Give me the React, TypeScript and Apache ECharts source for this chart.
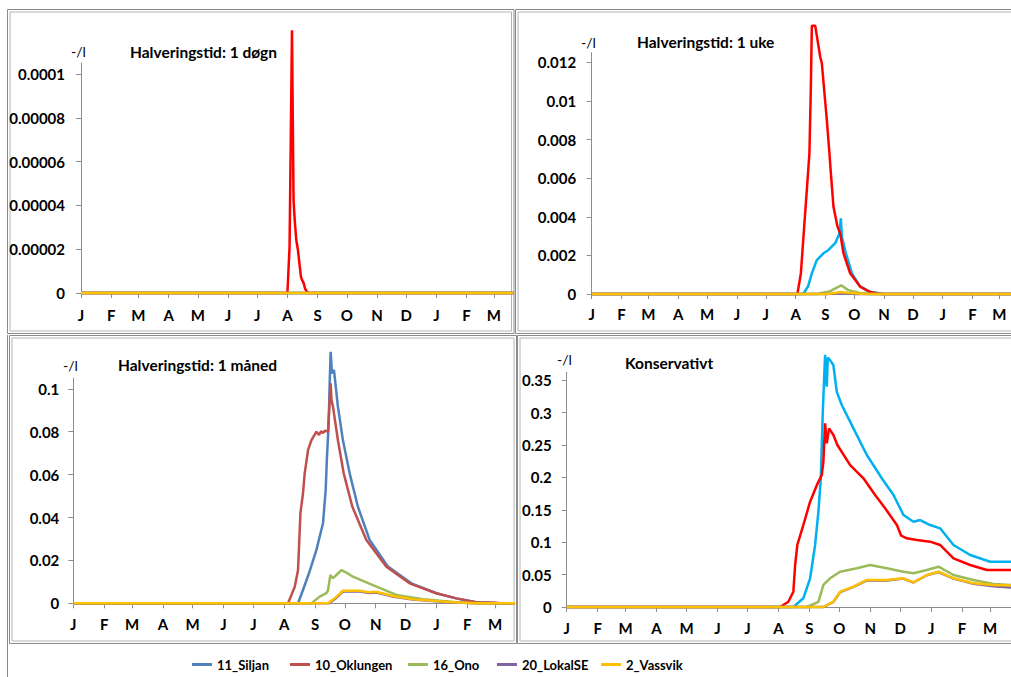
import React, { useEffect, useRef } from "react";
import * as echarts from "echarts";

// ---------- axis data ----------
const MONTH_DAYS = [0, 31, 59, 90, 120, 151, 181, 212, 243, 273, 304, 334, 365, 396, 424];
const MONTH_LABELS = ["J", "F", "M", "A", "M", "J", "J", "A", "S", "O", "N", "D", "J", "F", "M"];

const TICKS_DOGN = [0, 0.00002, 0.00004, 0.00006, 0.00008, 0.0001];
const TICKS_UKE = [0, 0.002, 0.004, 0.006, 0.008, 0.01, 0.012];
const TICKS_MAANED = [0, 0.02, 0.04, 0.06, 0.08, 0.1];
const TICKS_KONS = [0, 0.05, 0.1, 0.15, 0.2, 0.25, 0.3, 0.35];

const SERIES_NAMES = ["11_Siljan", "10_Oklungen", "16_Ono", "20_LokalSE", "2_Vassvik"];
const LEGEND_COLORS = ["#4F81BD", "#C0504D", "#9BBB59", "#8064A2", "#FFC000"];
const BRIGHT_COLORS = ["#00B0F0", "#FF0000", "#9BBB59", "#8064A2", "#FFC000"];

const PANEL_TITLES = ["Halveringstid: 1 døgn", "Halveringstid: 1 uke", "Halveringstid: 1 måned", "Konservativt"];

// ---------- series data: [day since 1 Jan, value] ----------
const dognSiljan = [[0, 0], [444, 0]];
const dognOklungen = [[0, 0], [212, 0], [214.2, 0.0000211], [216.7, 0.00012], [218.3, 0.0000425], [219.5, 0.0000333], [221.1, 0.0000242], [222.8, 0.0000196], [225.9, 0.0000074], [227, 0.000006], [228.6, 0.0000046], [230.3, 0.0000018], [233, 0], [444, 0]];
const dognOno = [[0, 0], [444, 0]];
const dognLokalSE = [[0, 0], [444, 0]];
const dognVassvik = [[0, 0], [444, 0]];

const ukeSiljan = [[0, 0], [220, 0], [225, 0.0004], [228.9, 0.00107], [234.1, 0.00176], [241, 0.00211], [246.2, 0.00228], [253.2, 0.00263], [257.6, 0.00314], [259.1, 0.00392], [260.1, 0.00297], [264.3, 0.00211], [270.6, 0.00107], [279.2, 0.00038], [290, 0.0001], [305, 0], [436, 0]];
const ukeOklungen = [[0, 0], [213.9, 0], [217.5, 0.00107], [221.2, 0.00366], [223.7, 0.00539], [226.4, 0.00729], [227.9, 0.01074], [228.9, 0.0139], [232.4, 0.0139], [237.6, 0.01229], [239.3, 0.01195], [244.5, 0.00901], [247.2, 0.00729], [248.7, 0.00625], [251.4, 0.00452], [255.6, 0.00349], [258.4, 0.00314], [261.8, 0.00211], [268.8, 0.00107], [279.2, 0.00038], [289.6, 0.0001], [300, 0], [436, 0]];
const ukeOno = [[0, 0], [234, 0], [248, 0.00015], [259.4, 0.00045], [266.7, 0.0002], [279, 0.00005], [290, 0], [436, 0]];
const ukeLokalSE = [[0, 0], [245, 0], [259, 0.00005], [275, 0], [436, 0]];
const ukeVassvik = [[0, 0], [245, 0], [259, 0.0001], [266, 0.00006], [285, 0], [436, 0]];

const maanedSiljan = [[0, 0], [225.9, 0], [230.9, 0.0062], [236.9, 0.014], [244.4, 0.0249], [251, 0.0373], [253.7, 0.0528], [255, 0.0684], [256.7, 0.0839], [257.7, 0.1026], [258.7, 0.1173], [260, 0.1072], [262, 0.1088], [266, 0.0917], [271, 0.0761], [277.8, 0.0606], [286.1, 0.045], [297.9, 0.0295], [316.3, 0.0171], [339.8, 0.0093], [364.9, 0.0047], [385, 0.0023], [405, 0.0005], [425, 0.0001], [444, 0]];
const maanedOklungen = [[0, 0], [215.9, 0], [222.6, 0.0077], [225.9, 0.0155], [226.9, 0.0264], [228.3, 0.042], [230.9, 0.0513], [232.6, 0.0606], [236, 0.0715], [239.4, 0.0761], [244.4, 0.08], [247, 0.0785], [249, 0.0802], [251, 0.0794], [253, 0.0805], [256, 0.08], [258.7, 0.1026], [259.5, 0.095], [261, 0.0917], [266, 0.076], [271.8, 0.0606], [280.5, 0.045], [294.6, 0.0295], [314.7, 0.0171], [338, 0.0093], [364.9, 0.0047], [385, 0.0023], [405, 0.0005], [425, 0.0003], [430, 0], [444, 0]];
const maanedOno = [[0, 0], [239.4, 0], [247.7, 0.0031], [254.4, 0.0047], [256, 0.006], [258.4, 0.0132], [259.5, 0.0125], [261, 0.0117], [264.5, 0.0132], [269.5, 0.0155], [275, 0.0142], [281.1, 0.0124], [301.2, 0.0085], [324.7, 0.0039], [351.4, 0.0019], [385, 0.0005], [405, 0], [444, 0]];
const maanedLokalSE = [[0, 0], [257, 0], [263, 0.002], [271, 0.0055], [288, 0.0055], [298, 0.0048], [305, 0.005], [321, 0.0032], [341, 0.0018], [378, 0.0005], [405, 0], [444, 0]];
const maanedVassvik = [[0, 0], [256, 0], [262.7, 0.0023], [268, 0.0045], [271, 0.0059], [287.8, 0.0059], [297.9, 0.0051], [304.6, 0.0054], [321.3, 0.0034], [341.4, 0.0019], [378, 0.0006], [405, 0], [444, 0]];

const konsSiljan = [[0, 0], [227, 0], [237, 0.0134], [243.8, 0.0443], [248.8, 0.0957], [252.1, 0.147], [254.5, 0.1986], [256.5, 0.3014], [258.8, 0.389], [259.6, 0.35], [260.5, 0.34], [261.5, 0.385], [263.8, 0.381], [267.1, 0.373], [270.5, 0.332], [275.5, 0.3117], [287.2, 0.2757], [300.6, 0.2345], [315.6, 0.1986], [327.3, 0.1728], [337.3, 0.142], [347.3, 0.1316], [354, 0.1342], [364, 0.1265], [374, 0.1214], [387.4, 0.0957], [404.1, 0.0802], [424.1, 0.0699], [445, 0.07]];
const konsOklungen = [[0, 0], [213.7, 0], [222, 0.0082], [227, 0.0236], [228.8, 0.0648], [231, 0.0957], [237, 0.1265], [243.8, 0.1625], [250.5, 0.188], [255.5, 0.2037], [257.1, 0.2242], [258.8, 0.2835], [260.5, 0.2526], [262.8, 0.2757], [267.1, 0.2654], [271.1, 0.25], [283.9, 0.219], [297.2, 0.1986], [308.9, 0.1728], [318.9, 0.1523], [330.7, 0.1265], [335, 0.11], [340.7, 0.106], [350.7, 0.1034], [364, 0.1008], [374, 0.0957], [387.4, 0.0751], [404.1, 0.0648], [420.8, 0.0571], [445, 0.057]];
const konsOno = [[0, 0], [240.5, 0], [252.1, 0.008], [257.1, 0.034], [263.8, 0.0443], [273.9, 0.0545], [290.6, 0.0597], [303.9, 0.0648], [320.6, 0.0597], [337.3, 0.0545], [347.3, 0.052], [360.7, 0.057], [372.4, 0.0622], [387.4, 0.0494], [407.4, 0.0417], [427.5, 0.0355], [445, 0.034]];
const konsLokalSE = [[0, 0], [257.1, 0], [267.1, 0.0078], [273.9, 0.023], [287.2, 0.031], [300.6, 0.041], [320.6, 0.041], [337.3, 0.0438], [347.3, 0.0378], [360.7, 0.049], [372.4, 0.054], [387.4, 0.0438], [407.4, 0.036], [427.5, 0.032], [445, 0.03]];
const konsVassvik = [[0, 0], [257.1, 0], [267.1, 0.0082], [273.9, 0.0236], [287.2, 0.0314], [300.6, 0.0417], [320.6, 0.0417], [337.3, 0.0443], [347.3, 0.0381], [360.7, 0.0494], [372.4, 0.0545], [387.4, 0.0443], [407.4, 0.0366], [427.5, 0.034], [445, 0.033]];

const PANEL_DATA = [
  [dognSiljan, dognOklungen, dognOno, dognLokalSE, dognVassvik],
  [ukeSiljan, ukeOklungen, ukeOno, ukeLokalSE, ukeVassvik],
  [maanedSiljan, maanedOklungen, maanedOno, maanedLokalSE, maanedVassvik],
  [konsSiljan, konsOklungen, konsOno, konsLokalSE, konsVassvik],
];
const PANEL_TICKS = [TICKS_DOGN, TICKS_UKE, TICKS_MAANED, TICKS_KONS];

// ---------- layout ----------
const GRIDS = [
  { left: 81, top: 63, width: 432.3, height: 230 },
  { left: 591.7, top: 52.7, width: 419.3, height: 241.3 },
  { left: 73.3, top: 378.1, width: 441.7, height: 225.2 },
  { left: 566.7, top: 372.4, width: 444.3, height: 234.6 },
];
const Y_MAX = [0.000105, 0.0125, 0.105, 0.362];
const X_MAX = [444, 436, 444, 445];
const Y_LABEL_MARGIN = [16, 15.5, 14, 15];
const X_LABEL_MARGIN = [14, 12, 13, 13];
const PANEL_COLORS = [BRIGHT_COLORS, BRIGHT_COLORS, LEGEND_COLORS, BRIGHT_COLORS];
const UNIT_POS = [[71, 51], [581, 42], [63, 365], [557, 359]];
const TITLE_POS = [[130, 52], [637, 42], [118, 365], [625, 363]];
const LEGEND_LEFT = [187, 285, 403, 492, 596];
const FRAMES = [
  { x: 7.5, y: 9.5, width: 506.5, height: 324 },
  { x: 515.5, y: 9.5, width: 510, height: 324 },
  { x: 9.5, y: 335.5, width: 507, height: 308 },
  { x: 517.5, y: 335.5, width: 510, height: 308 },
];

const FONT = "Lato, 'Open Sans', sans-serif";

export default function App() {
  const ref = useRef<HTMLDivElement>(null);
  useEffect(() => {
    if (!ref.current) return;
    const chart = echarts.init(ref.current, undefined, { renderer: "svg" });

    const grid = GRIDS.map((g) => ({ ...g, containLabel: false }));
    const xAxis = GRIDS.map((_, i) => ({
      type: "value",
      gridIndex: i,
      min: 0,
      max: X_MAX[i],
      axisLine: { show: true, lineStyle: { color: "#8c8c8c", width: 1 } },
      axisTick: { show: true, length: 5, lineStyle: { color: "#8c8c8c" }, customValues: MONTH_DAYS },
      axisLabel: {
        show: true,
        customValues: MONTH_DAYS,
        margin: X_LABEL_MARGIN[i],
        fontFamily: FONT,
        fontWeight: "bold",
        fontSize: 15,
        color: "#000",
        formatter: (v: number) => {
          const k = MONTH_DAYS.indexOf(Math.round(v));
          return k >= 0 ? MONTH_LABELS[k] : "";
        },
      },
      splitLine: { show: false },
    }));
    const yAxis = GRIDS.map((_, i) => ({
      type: "value",
      gridIndex: i,
      min: 0,
      max: Y_MAX[i],
      axisLine: { show: true, lineStyle: { color: "#8c8c8c", width: 1 } },
      axisTick: { show: true, length: 5, lineStyle: { color: "#8c8c8c" }, customValues: PANEL_TICKS[i] },
      axisLabel: {
        show: true,
        customValues: PANEL_TICKS[i],
        margin: Y_LABEL_MARGIN[i],
        fontFamily: FONT,
        fontWeight: "bold",
        fontSize: 15,
        color: "#000",
        formatter: (v: number) => String(v),
      },
      splitLine: { show: false },
    }));

    const series: any[] = [];
    PANEL_DATA.forEach((panel, p) => {
      panel.forEach((data, s) => {
        series.push({
          type: "line",
          name: SERIES_NAMES[s],
          xAxisIndex: p,
          yAxisIndex: p,
          data,
          showSymbol: false,
          symbol: "none",
          clip: false,
          lineStyle: { color: PANEL_COLORS[p][s], width: 2.5 },
          itemStyle: { color: PANEL_COLORS[p][s] },
          z: 2 + s * 0.01,
        });
      });
    });

    const graphic: any[] = [];
    FRAMES.forEach((f) => {
      graphic.push({
        type: "rect",
        shape: { ...f },
        style: { fill: "none", stroke: "#8a8a8a", lineWidth: 1 },
        silent: true,
        z: -1,
      });
      graphic.push({
        type: "rect",
        shape: { x: f.x + 2.5, y: f.y + 2.5, width: f.width - 5, height: f.height - 5 },
        style: { fill: "none", stroke: "#b4b4b4", lineWidth: 1 },
        silent: true,
        z: -1,
      });
    });
    graphic.push({
      type: "line",
      shape: { x1: 7.5, y1: 335, x2: 7.5, y2: 677 },
      style: { stroke: "#8a8a8a", lineWidth: 1 },
      silent: true,
    });
    PANEL_TITLES.forEach((t, i) => {
      graphic.push({
        type: "text",
        style: {
          text: "-/l",
          x: UNIT_POS[i][0],
          y: UNIT_POS[i][1],
          font: `14px ${FONT}`,
          fill: "#000",
          verticalAlign: "middle",
        },
        silent: true,
      });
      graphic.push({
        type: "text",
        style: {
          text: t,
          x: TITLE_POS[i][0],
          y: TITLE_POS[i][1],
          font: `bold 15.5px ${FONT}`,
          fill: "#000",
          verticalAlign: "middle",
        },
        silent: true,
      });
    });

    const legend = SERIES_NAMES.map((n, i) => ({
      left: LEGEND_LEFT[i],
      top: 653,
      itemWidth: 20,
      itemHeight: 3,
      icon: "rect",
      selectedMode: false,
      textStyle: { fontFamily: FONT, fontWeight: "bold", fontSize: 13, color: "#000" },
      data: [{ name: n, itemStyle: { color: LEGEND_COLORS[i] } }],
    }));

    chart.setOption({
      animation: false,
      backgroundColor: "#ffffff",
      grid,
      xAxis,
      yAxis,
      series,
      graphic,
      legend,
    });
    return () => chart.dispose();
  }, []);

  return (
    <div
      ref={ref}
      style={{ position: "fixed", left: 0, top: 0, width: 1011, height: 677, background: "#fff" }}
    />
  );
}
